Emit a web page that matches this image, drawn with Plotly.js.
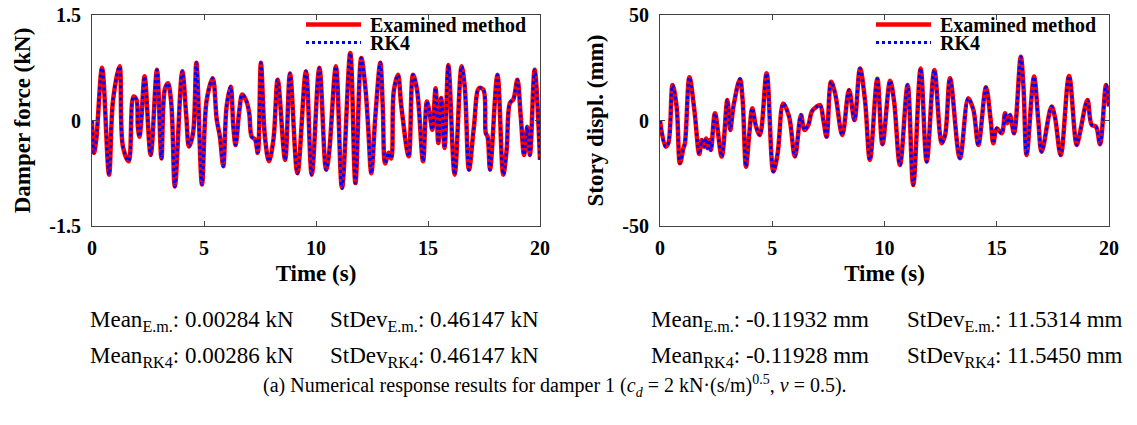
<!DOCTYPE html>
<html>
<head>
<meta charset="utf-8">
<script src="https://cdn.plot.ly/plotly-3.0.1.min.js"></script>
<style>
  html, body { margin: 0; padding: 0; background: #fff; }
  #chart { width: 1137px; height: 425px; }
</style>
</head>
<body>
<div id="chart"></div>
<script>
// ---- Data ----
const timeForce = [0, 0.09, 0.19, 0.45, 0.76, 0.94, 1.23, 1.38, 1.64, 1.85, 1.98, 2.05, 2.12, 2.2, 2.35, 2.62, 2.9, 3.1, 3.25, 3.39, 3.54, 3.7, 4.03, 4.21, 4.33, 4.51, 4.66, 4.91, 5.12, 5.39, 5.57, 5.71, 5.86, 6.01, 6.19, 6.31, 6.41, 6.58, 6.71, 6.9, 7.02, 7.13, 7.28, 7.4, 7.54, 7.72, 7.9, 8.1, 8.29, 8.62, 8.84, 9.17, 9.55, 9.81, 10.15, 10.45, 10.57, 10.89, 11.16, 11.53, 11.76, 12.02, 12.2, 12.32, 12.47, 12.65, 12.87, 12.98, 13.09, 13.24, 13.36, 13.47, 13.66, 13.81, 14.14, 14.33, 14.51, 14.78, 14.95, 15.09, 15.19, 15.34, 15.46, 15.59, 15.74, 15.91, 16.19, 16.5, 16.64, 16.83, 17.05, 17.28, 17.47, 17.58, 17.66, 17.77, 18.1, 18.36, 18.51, 18.66, 18.81, 18.99, 19.14, 19.29, 19.43, 19.55, 19.76, 20.0];
const forceExamined = [0, -0.46, -0.27, 0.75, -0.77, 0.29, 0.77, -0.37, -0.58, 0.34, 0.30, -0.10, -0.23, 0.0, 0.63, -0.49, 0.72, -0.54, 0.44, 0.53, 0.24, -0.94, 0.70, 0.06, -0.37, -0.18, 0.82, -0.91, 0.29, 0.60, 0.01, -0.23, -0.65, 0.20, 0.48, -0.09, -0.35, 0.15, 0.37, 0.27, 0.10, -0.23, -0.27, -0.46, 0.82, -0.23, -0.58, -0.27, 0.58, -0.56, 0.67, -0.75, 0.70, -0.77, 0.75, -0.70, -0.51, 0.77, -0.96, 0.96, -0.89, 0.89, 0.48, -0.04, -0.75, 0.06, 0.82, 0.20, -0.61, -0.46, -0.54, 0.41, 0.65, 0.20, -0.51, 0.65, 0.44, -0.58, 0.27, 0.06, -0.13, 0.46, -0.32, 0.32, -0.39, 0.79, -0.77, 0.77, 0.48, -0.70, -0.09, 0.46, 0.44, -0.18, -0.23, -0.70, 0.65, -0.77, -0.42, 0.25, 0.30, 0.58, 0.06, -0.49, -0.09, -0.49, 0.72, -0.56];
const forceRK4 = forceExamined.slice(); // visually identical to the examined method

const timeDispl = [0, 0.25, 0.37, 0.56, 0.74, 0.89, 1.04, 1.11, 1.31, 1.53, 1.75, 1.86, 1.97, 2.05, 2.12, 2.2, 2.27, 2.45, 2.75, 3.0, 3.13, 3.27, 3.56, 3.68, 3.83, 3.98, 4.11, 4.28, 4.45, 4.75, 5.05, 5.24, 5.49, 5.75, 6.01, 6.28, 6.43, 6.61, 6.76, 6.98, 7.13, 7.28, 7.42, 7.62, 7.8, 8.12, 8.42, 8.66, 8.91, 9.13, 9.35, 9.68, 9.91, 10.25, 10.42, 10.69, 11.03, 11.28, 11.61, 11.88, 12.22, 12.55, 12.7, 12.92, 13.36, 13.73, 13.96, 14.18, 14.52, 14.73, 14.85, 15.0, 15.22, 15.37, 15.47, 15.59, 15.77, 16.07, 16.19, 16.33, 16.66, 16.85, 17.0, 17.44, 17.59, 17.85, 18.22, 18.56, 18.7, 19.04, 19.23, 19.42, 19.6, 19.87, 20.0];
const displExamined = [0, -12.4, -10.8, 16.8, 6.6, -20.3, -13.2, -10.8, 20.5, 5.0, -15.9, -9.2, -12.4, -8.5, -13.2, -9.2, -14.0, 3.4, -17.1, 9.7, -4.5, 6.6, 19.7, 9.7, -21.9, -6.1, 5.8, -2.9, -6.9, 22.4, -24.2, -15.6, 8.1, 1.8, -17.1, 2.6, -4.5, -2.1, 4.2, 6.6, 7.3, 0.0, -7.7, 18.4, 12.9, -6.9, 14.5, 0.2, 24.7, 9.7, -18.7, 19.8, -11.2, 18.8, 9.7, -21.1, 16.8, -30.6, 24.7, -19.5, 23.9, -10.8, -6.9, 20.0, -17.9, 10.5, 5.0, -11.6, 15.7, 0.2, -10.8, -3.7, -6.1, 3.4, -1.3, 2.6, -6.1, 30.2, 16.0, -16.4, 20.8, 0.2, -14.8, 6.6, 1.8, -16.4, 21.1, -11.6, -6.1, 9.7, -2.1, -2.9, -11.2, 16.8, 6.6];
const displRK4 = displExamined.slice();

const seriesNames = ["Examined method", "RK4"];
const xTicks = [0, 5, 10, 15, 20];
const forceTicks = [-1.5, 0, 1.5];
const forceTickText = ["-1.5", "0", "1.5"];
const displTicks = [-50, 0, 50];
const displTickText = ["-50", "0", "50"];

const statsForceLine1 = ["Mean<sub>E.m.</sub>: 0.00284 kN", "StDev<sub>E.m.</sub>: 0.46147 kN"];
const statsForceLine2 = ["Mean<sub>RK4</sub>: 0.00286 kN", "StDev<sub>RK4</sub>: 0.46147 kN"];
const statsDisplLine1 = ["Mean<sub>E.m.</sub>: -0.11932 mm", "StDev<sub>E.m.</sub>: 11.5314 mm"];
const statsDisplLine2 = ["Mean<sub>RK4</sub>: -0.11928 mm", "StDev<sub>RK4</sub>: 11.5450 mm"];
const captionText = "(a) Numerical response results for damper 1 (<i>c<sub>d</sub></i> = 2 kN·(s/m)<sup>0.5</sup>, <i>v</i> = 0.5).";

// ---- Layout helpers ----
const W = 1137, H = 425;
const M = { l: 92, r: 28, t: 15, b: 199, autoexpand: false };
const PW = W - M.l - M.r, PH = H - M.t - M.b;
const px = x => (x - M.l) / PW;
const py = y => (H - M.b - y) / PH;

const serif = "Liberation Serif, Times New Roman, serif";
const redLine = { color: "#ff0000", width: 4.5 };
const blueLine = { color: "#0000ff", width: 3, dash: "3px,3px" };

const traces = [
  { x: timeForce, y: forceExamined, name: seriesNames[0], type: "scatter", mode: "lines",
    line: Object.assign({ shape: "spline", smoothing: 1 }, redLine), xaxis: "x", yaxis: "y", legend: "legend" },
  { x: timeForce, y: forceRK4, name: seriesNames[1], type: "scatter", mode: "lines",
    line: Object.assign({ shape: "spline", smoothing: 1 }, blueLine), xaxis: "x", yaxis: "y", legend: "legend3" },
  { x: timeDispl, y: displExamined, name: seriesNames[0], type: "scatter", mode: "lines",
    line: Object.assign({ shape: "spline", smoothing: 1 }, redLine), xaxis: "x2", yaxis: "y2", legend: "legend2" },
  { x: timeDispl, y: displRK4, name: seriesNames[1], type: "scatter", mode: "lines",
    line: Object.assign({ shape: "spline", smoothing: 1 }, blueLine), xaxis: "x2", yaxis: "y2", legend: "legend4" }
];

const tickFont = { family: serif, size: 20, color: "#000", weight: "bold" };
const titleFont = { family: serif, size: 23, color: "#000", weight: "bold" };

function xAxis(domain, anchor) {
  return {
    domain: domain, anchor: anchor, range: [0, 20], tickvals: xTicks,
    ticks: "inside", ticklen: 5, tickcolor: "#444", mirror: "ticks",
    showline: true, linecolor: "#444", linewidth: 1,
    showgrid: false, zeroline: false, tickfont: tickFont, ticklabelstandoff: 4,
    title: { text: "Time (s)", font: titleFont, standoff: 6 }
  };
}
function yAxis(range, vals, texts, title, anchor) {
  return {
    domain: [0, 1], anchor: anchor, range: range, tickvals: vals, ticktext: texts,
    ticks: "inside", ticklen: 5, tickcolor: "#444", mirror: "ticks",
    showline: true, linecolor: "#444", linewidth: 1,
    showgrid: false, zeroline: false, tickfont: tickFont, ticklabelstandoff: 6,
    title: { text: title, font: titleFont, standoff: 12 }
  };
}

const legendFont = { family: serif, size: 20, color: "#000", weight: "bold" };
function legendAt(xPix, topPix) {
  return { x: px(xPix), y: py(topPix), xanchor: "left", yanchor: "top", bgcolor: "rgba(0,0,0,0)",
    borderwidth: 0, font: legendFont, itemwidth: 59, tracegroupgap: 0, itemclick: false };
}

const statFont = { family: serif, size: 23, color: "#000" };
const captionFont = { family: serif, size: 20, color: "#000" };
function ann(text, xPix, yPix, anchor, font) {
  return { text: text, xref: "paper", yref: "paper", x: px(xPix), y: py(yPix),
    xanchor: anchor || "left", yanchor: "middle", showarrow: false, font: font || statFont };
}

const annotations = [
  ann(statsForceLine1[0], 88, 321), ann(statsForceLine1[1], 328, 321),
  ann(statsForceLine2[0], 88, 357), ann(statsForceLine2[1], 328, 357),
  ann(statsDisplLine1[0], 649, 321), ann(statsDisplLine1[1], 905, 321),
  ann(statsDisplLine2[0], 649, 357), ann(statsDisplLine2[1], 905, 357),
  ann(captionText, 555, 386, "center", captionFont)
];

const layout = {
  width: W, height: H, margin: M,
  paper_bgcolor: "#fff", plot_bgcolor: "#fff",
  showlegend: true,
  xaxis: xAxis([0, 448 / PW], "y"),
  yaxis: yAxis([-1.5, 1.5], forceTicks, forceTickText, "Damper force (kN)", "x"),
  xaxis2: xAxis([568 / PW, 1], "y2"),
  yaxis2: yAxis([-50, 50], displTicks, displTickText, "Story displ. (mm)", "x2"),
  legend: legendAt(301, 5),
  legend3: legendAt(301, 23),
  legend2: legendAt(871, 5),
  legend4: legendAt(871, 23),
  annotations: annotations
};

Plotly.newPlot("chart", traces, layout, { staticPlot: true, displayModeBar: false }).then(function (gd) {
  // lengthen the legend line samples to match the reference
  gd.querySelectorAll("g.legendlines path").forEach(function (p) {
    p.setAttribute("d", "M5,0h55");
  });
});
</script>
</body>
</html>
